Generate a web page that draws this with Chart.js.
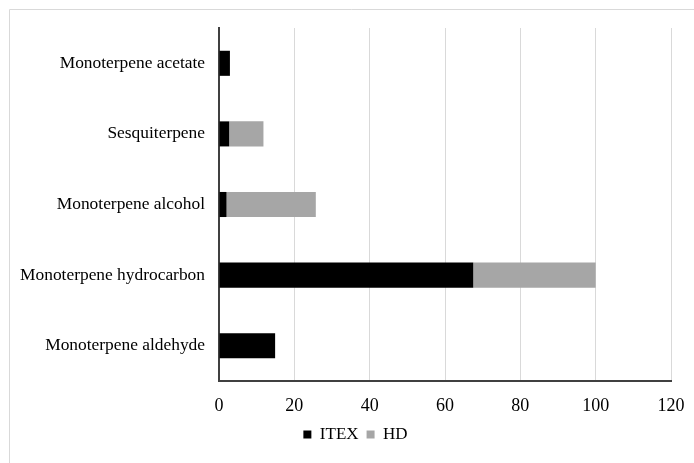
<!DOCTYPE html>
<html lang="en">
<head>
    <meta charset="UTF-8">
    <title>Terpenes</title>
    <script src="https://cdn.jsdelivr.net/npm/chart.js"></script>
    <style>
        body { margin: 0; background: #fff; }
    </style>
</head>
<body>
    <canvas id="myChart" width="694" height="463"></canvas>
    <script>
        // data (top to bottom)
        var categories = ['Monoterpene acetate', 'Sesquiterpene', 'Monoterpene alcohol', 'Monoterpene hydrocarbon', 'Monoterpene aldehyde'];
        var itexValues = [2.9, 2.7, 2, 67.5, 14.9];
        var hdValues = [0, 9.1, 23.7, 32.5, 0];
        var xTicks = [0, 20, 40, 60, 80, 100, 120];

        var serif = "'Liberation Serif', 'Times New Roman', serif";

        // light frame along the top and left edges
        var framePlugin = {
            id: 'frame',
            beforeDraw: function(chart) {
                var c = chart.ctx;
                c.save();
                c.strokeStyle = '#d9d9d9';
                c.lineWidth = 1;
                c.beginPath();
                c.moveTo(9.5, 463);
                c.lineTo(9.5, 9.5);
                c.lineTo(694, 9.5);
                c.stroke();
                c.restore();
                // legend sits a bit right of the canvas centre in the original
                chart.legend.left = 25;
                chart.legend.right = 686;
            }
        };

        var ctx = document.getElementById('myChart').getContext('2d');
        var myChart = new Chart(ctx, {
            type: 'bar',
            data: {
                labels: categories,
                datasets: [{
                    label: 'ITEX',
                    data: itexValues,
                    backgroundColor: '#000000',
                    barPercentage: 0.355,
                    categoryPercentage: 1
                }, {
                    label: 'HD',
                    data: hdValues,
                    backgroundColor: '#a6a6a6',
                    barPercentage: 0.355,
                    categoryPercentage: 1
                }]
            },
            options: {
                indexAxis: 'y',
                responsive: false,
                animation: false,
                layout: { padding: { left: 10, right: 23, top: 28, bottom: 10 } },
                plugins: {
                    legend: {
                        position: 'bottom',
                        labels: {
                            color: '#000',
                            boxWidth: 8,
                            boxHeight: 8,
                            padding: 8,
                            font: { family: serif, size: 17 }
                        }
                    },
                    tooltip: { enabled: false }
                },
                scales: {
                    x: {
                        stacked: true,
                        min: 0,
                        max: 120,
                        afterBuildTicks: function(scale) {
                            scale.ticks = xTicks.map(function(v) { return { value: v }; });
                        },
                        afterFit: function(scale) {
                            scale.height = 37;
                            scale.paddingLeft = 0;
                            scale.paddingRight = 14;
                        },
                        grid: { color: '#d9d9d9', drawTicks: false },
                        border: { color: '#404040', width: 2 },
                        ticks: { color: '#000', padding: 14, maxRotation: 0, font: { family: serif, size: 18 } }
                    },
                    y: {
                        stacked: true,
                        afterFit: function(scale) { scale.width = 209; },
                        grid: { display: false, drawTicks: false },
                        border: { color: '#404040', width: 2 },
                        ticks: { color: '#000', padding: 14, font: { family: serif, size: 17.4 } }
                    }
                }
            },
            plugins: [framePlugin]
        });
    </script>
</body>
</html>
